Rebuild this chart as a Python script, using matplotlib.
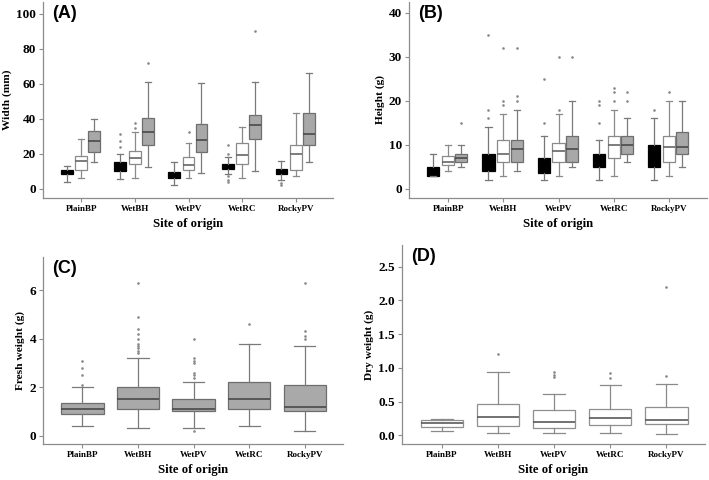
import matplotlib
matplotlib.use("Agg")
import matplotlib.pyplot as plt

sites = ["PlainBP", "WetBH", "WetPV", "WetRC", "RockyPV"]

# Panel A: Width (mm) -- three groups per site (black, white, gray)
# each entry: (whislo, q1, med, q3, whishi, fliers)
width_black = [(4, 8.3, 9.5, 10.9, 13, []),
               (5.3, 10, 12.5, 15, 20, [24, 27, 31]),
               (2.1, 6.2, 8, 9.8, 15.3, []),
               (8.3, 11.1, 12.5, 14.1, 18, [20, 25, 7, 5, 4]),
               (5.1, 8.3, 9.5, 11.1, 16, [3.4, 2.4])]
width_white = [(6.2, 10.5, 16, 18.8, 28.4, []),
               (6.2, 14.3, 17.3, 21.7, 32.2, [34.5, 37.3]),
               (6.2, 10.9, 13.5, 18.3, 26.2, [32.2]),
               (6.2, 14.3, 19, 26.2, 35.2, []),
               (7.2, 10.9, 19.8, 25.2, 43.1, [])]
width_gray = [(15.3, 20.9, 27.3, 32.8, 40, []),
              (12.4, 25, 32.2, 40.1, 61.2, [71.6]),
              (9, 20.9, 27.9, 37.1, 60.3, []),
              (10.2, 28.2, 36.3, 42.2, 61.2, [90.2]),
              (15.3, 25.2, 31.3, 43.1, 66.3, [])]

# Panel B: Height
height_black = [(3, 3, 4, 5, 8, []),
                (2, 4, 6, 8, 14, [16, 18, 35]),
                (2, 3.5, 5, 7, 12, [15, 25]),
                (2, 5, 6.5, 8, 11, [15, 19, 20]),
                (2, 5, 7.5, 10, 16, [18])]
height_white = [(4, 5.5, 6, 7.5, 10, []),
                (3, 6, 8, 11, 17, [19, 20, 32]),
                (3, 6, 8.5, 10.5, 17, [18, 30]),
                (3, 7, 10, 12, 18, [20, 22, 23]),
                (3, 6, 9.5, 12, 20, [22])]
height_gray = [(5, 6, 7, 8, 10, [15]),
               (4, 6, 9, 11, 18, [20, 21, 32]),
               (5, 6, 9, 12, 20, [30]),
               (6, 8, 10, 12, 16, [20, 22]),
               (5, 8, 9.5, 13, 20, [])]

# Panel C: Fresh weight (g)
fresh = [(0.4, 0.91, 1.1, 1.36, 2.0, [2.1, 2.5, 2.8, 3.1]),
         (0.32, 1.1, 1.5, 2.0, 3.2, [3.4, 3.5, 3.6, 3.7, 3.8, 4.0, 4.2, 4.4, 4.9, 6.3]),
         (0.3, 1.0, 1.1, 1.5, 2.2, [0.2, 2.4, 2.5, 2.6, 3.0, 3.1, 3.2, 4.0]),
         (0.4, 1.1, 1.5, 2.2, 3.8, [4.6]),
         (0.2, 1.0, 1.2, 2.1, 3.7, [4.0, 4.1, 4.3, 6.3])]

# Panel D: Dry weight (g)
dry = [(0.07, 0.12, 0.18, 0.22, 0.24, []),
       (0.03, 0.13, 0.27, 0.46, 0.94, [1.2]),
       (0.04, 0.10, 0.19, 0.37, 0.61, [0.87, 0.90, 0.94]),
       (0.03, 0.15, 0.26, 0.39, 0.74, [0.85, 0.92]),
       (0.02, 0.17, 0.22, 0.42, 0.76, [0.88, 2.2])]

SERIF = "Liberation Serif"
SANS = "Liberation Sans"


def to_stats(rows):
    return [dict(whislo=r[0], q1=r[1], med=r[2], q3=r[3], whishi=r[4], fliers=r[5])
            for r in rows]


def draw(ax, rows, pos, width, face, edge, med, whisk):
    ax.bxp(to_stats(rows), positions=pos, widths=width, patch_artist=True,
           showcaps=True,
           boxprops=dict(facecolor=face, edgecolor=edge, linewidth=0.9),
           medianprops=dict(color=med, linewidth=1.2),
           whiskerprops=dict(color=whisk, linewidth=0.9),
           capprops=dict(color=whisk, linewidth=0.9),
           flierprops=dict(marker='o', markersize=0.9, markerfacecolor='#8a8a8a',
                           markeredgecolor='#8a8a8a', linestyle='none'),
           capwidths=width * 0.5)


def style(ax, ylabel, yticks, yticklabels, ylim, letter):
    ax.set_xlim(0.29, 5.69)
    ax.set_ylim(*ylim)
    ax.set_xticks(range(1, 6))
    ax.set_xticklabels(sites, fontfamily=SERIF, fontweight='bold', fontsize=6.5)
    ax.set_yticks(yticks)
    ax.set_yticklabels(yticklabels, fontfamily=SERIF, fontweight='bold', fontsize=9.5)
    ax.set_xlabel("Site of origin", fontfamily=SERIF, fontweight='bold', fontsize=9.2, labelpad=4)
    ax.set_ylabel(ylabel, fontfamily=SERIF, fontweight='bold', fontsize=8.2, labelpad=3)
    for s in ['top', 'right']:
        ax.spines[s].set_visible(False)
    for s in ['left', 'bottom']:
        ax.spines[s].set_color('#8c8c8c')
        ax.spines[s].set_linewidth(0.9)
    ax.tick_params(axis='both', length=3, width=0.8, color='#8c8c8c', pad=2)
    ax.text(0.03, 0.985, letter, transform=ax.transAxes, fontfamily=SANS,
            fontweight='bold', fontsize=13, va='top', ha='left',
            bbox=dict(facecolor='white', edgecolor='none', pad=1))


fig = plt.figure(figsize=(7.09, 4.80), dpi=100)
W, H = 709.0, 480.0


def add_axes(left, right, top, bottom):
    return fig.add_axes([left / W, 1 - bottom / H, (right - left) / W, (bottom - top) / H])


sites_x = list(range(1, 6))
off_l, off_r, bw = -0.27, 0.24, 0.22

axA = add_axes(43, 333, 2, 198)
draw(axA, width_black, [x + off_l for x in sites_x], bw, 'black', 'black', 'black', '#777777')
draw(axA, width_white, sites_x, bw, 'white', '#8a8a8a', '#666666', '#8a8a8a')
draw(axA, width_gray, [x + off_r for x in sites_x], bw, '#a8a8a8', '#6e6e6e', '#4a4a4a', '#7a7a7a')
style(axA, "Width (mm)", [0, 20, 40, 60, 80, 100], ["0", "20", "40", "60", "80", "100"],
      (-5.3, 106.6), "(A)")

axB = add_axes(409, 707, 2, 198)
draw(axB, height_black, [x + off_l for x in sites_x], bw, 'black', 'black', 'black', '#777777')
draw(axB, height_white, sites_x, bw, 'white', '#8a8a8a', '#666666', '#8a8a8a')
draw(axB, height_gray, [x + off_r for x in sites_x], bw, '#a8a8a8', '#6e6e6e', '#4a4a4a', '#7a7a7a')
style(axB, "Height (g)", [0, 10, 20, 30, 40], ["0", "10", "20", "30", "40"],
      (-2.1, 42.5), "(B)")

axC = add_axes(43, 343, 257, 444)
draw(axC, fresh, sites_x, 0.76, '#a9a9a9', '#6e6e6e', '#4a4a4a', '#7a7a7a')
style(axC, "Fresh weight (g)", [0, 2, 4, 6], ["0", "2", "4", "6"],
      (-0.34, 7.37), "(C)")

axD = add_axes(402, 705, 245, 444)
draw(axD, dry, sites_x, 0.76, 'white', '#8f8f8f', '#5a5a5a', '#8a8a8a')
style(axD, "Dry weight (g)", [0, 0.5, 1.0, 1.5, 2.0, 2.5],
      ["0.0", "0.5", "1.0", "1.5", "2.0", "2.5"], (-0.13, 2.82), "(D)")

fig.savefig("out.png", dpi=100)
